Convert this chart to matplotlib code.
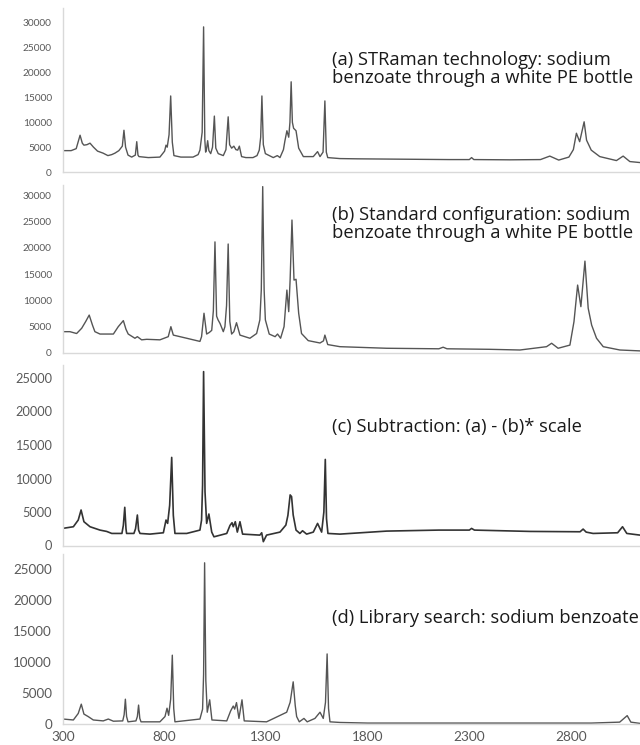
"""Raman spectra of sodium benzoate, four stacked panels."""

import matplotlib
matplotlib.use("Agg")
import matplotlib.pyplot as plt


# (a) STRaman: wavenumber / intensity pairs
a_wn = [300, 340, 365, 384, 395, 403, 418, 433, 450, 470, 497, 521, 540, 556, 575,
        592, 600, 608, 620, 638, 656, 663, 669, 674, 720, 777, 800, 807, 813, 822,
        830, 838, 846, 880, 940, 965, 974, 985, 992, 998, 1002, 1006, 1012, 1018,
        1027, 1036, 1045, 1052, 1064, 1089, 1102, 1113, 1120, 1130, 1141, 1151,
        1160, 1168, 1179, 1200, 1235, 1255, 1266, 1273, 1279, 1286, 1296, 1335,
        1355, 1368, 1385, 1392, 1402, 1411, 1417, 1423, 1429, 1435, 1447, 1460,
        1483, 1532, 1553, 1565, 1580, 1589, 1596, 1603, 1663, 1750, 1900, 2050,
        2200, 2300, 2311, 2322, 2500, 2650, 2696, 2740, 2790, 2812, 2827, 2843,
        2865, 2877, 2900, 2942, 3024, 3057, 3090, 3140]
a_int = [4300, 4300, 4700, 7400, 5800, 5400, 5500, 5800, 5000, 4200, 3800, 3300, 3500,
         3800, 4300, 5200, 8400, 5000, 3400, 3000, 3400, 6100, 3400, 3100, 2900, 3000,
         4200, 5400, 5000, 7500, 15300, 6000, 3300, 3000, 3000, 3500, 4400, 8000,
         29200, 6500, 4000, 4500, 6300, 4300, 3700, 5000, 11250, 4800, 3700, 3300,
         4500, 11100, 5500, 4800, 5200, 4500, 4400, 5200, 3100, 2900, 2900, 3300,
         4400, 7000, 15300, 5500, 3700, 2900, 3300, 2900, 4500, 6200, 8300, 7000,
         10000, 18150, 10000, 8800, 8300, 4800, 3100, 3100, 4100, 3100, 4000, 14300,
         4000, 2900, 2700, 2650, 2600, 2550, 2500, 2500, 2900, 2500, 2450, 2500, 3200,
         2400, 3000, 4500, 7800, 6100, 10100, 6400, 4400, 3100, 2300, 3200, 2100, 1900]

# (b) standard configuration
b_wn = [300, 334, 367, 392, 412, 429, 445, 457, 482, 548, 572, 597, 610, 621, 654,
        666, 687, 712, 777, 818, 831, 843, 909, 974, 982, 994, 1007, 1020, 1032,
        1040, 1048, 1056, 1063, 1073, 1089, 1097, 1105, 1113, 1121, 1130, 1141,
        1154, 1171, 1220, 1253, 1269, 1276, 1283, 1290, 1296, 1315, 1344, 1356,
        1371, 1388, 1402, 1411, 1418, 1427, 1437, 1447, 1460, 1474, 1507, 1565,
        1582, 1589, 1603, 1663, 1893, 2150, 2171, 2190, 2400, 2549, 2680, 2705,
        2737, 2795, 2815, 2833, 2849, 2869, 2885, 2902, 2926, 2959, 3041, 3140]
b_int = [4050, 4050, 3700, 4700, 6000, 7200, 5300, 4050, 3600, 3600, 5000, 6150, 4500,
         3600, 2800, 3100, 2500, 2600, 2500, 3100, 5000, 3400, 2800, 2200, 3100, 7550,
         3600, 3900, 4300, 8000, 21100, 7000, 6300, 5600, 4050, 5000, 9000, 20700,
         6000, 3600, 4050, 5750, 3400, 2800, 3700, 6300, 12000, 31600, 12000, 6300,
         3600, 3100, 3600, 2800, 5000, 11950, 7850, 14000, 25250, 13850, 14000, 7550,
         3700, 2350, 1900, 2300, 3400, 1600, 1200, 900, 800, 1100, 800, 700, 570, 1200,
         1850, 900, 1500, 5950, 12900, 8800, 17450, 8500, 5300, 2800, 1200, 570, 400]

# (c) subtraction (a) - (b)*scale
c_wn = [300, 351, 375, 389, 403, 433, 482, 515, 540, 590, 597, 604, 610, 613, 649,
        657, 666, 672, 679, 728, 794, 807, 815, 825, 835, 843, 851, 909, 974, 982,
        987, 992, 999, 1007, 1018, 1032, 1043, 1056, 1106, 1122, 1132, 1138, 1148,
        1158, 1171, 1184, 1269, 1278, 1286, 1302, 1368, 1397, 1407, 1418, 1425,
        1433, 1447, 1466, 1479, 1499, 1532, 1553, 1573, 1584, 1591, 1597, 1604,
        1663, 1893, 2150, 2300, 2311, 2325, 2600, 2845, 2860, 2875, 2909, 3030,
        3054, 3075, 3140]
c_int = [2560, 2800, 3800, 5300, 3550, 2800, 2300, 2100, 1800, 1800, 3000, 5700, 2500,
         1800, 1800, 2500, 4550, 2300, 1800, 1700, 1900, 3800, 3300, 6000, 13150, 4500,
         1800, 1800, 2300, 3800, 9000, 25950, 8000, 3300, 4700, 2000, 1300, 1400, 1800,
         3000, 3400, 2800, 3550, 2000, 3550, 1700, 1550, 1900, 570, 1550, 2000, 3050,
         4500, 7550, 7300, 4550, 2300, 1800, 2200, 1700, 2000, 3300, 2000, 5000, 12850,
         4000, 1800, 1700, 2150, 2300, 2300, 2550, 2300, 2100, 2050, 2450, 2000, 1800,
         1900, 2800, 1800, 1550]

# (d) library spectrum
d_wn = [300, 351, 375, 390, 403, 424, 449, 498, 523, 548, 594, 601, 607, 613, 620,
        659, 666, 672, 678, 684, 777, 802, 812, 820, 830, 838, 845, 851, 974, 987,
        992, 997, 1003, 1010, 1022, 1033, 1106, 1125, 1138, 1145, 1154, 1166, 1181,
        1192, 1302, 1401, 1418, 1433, 1443, 1450, 1463, 1486, 1502, 1540, 1565,
        1581, 1592, 1600, 1607, 1614, 1663, 1800, 2500, 2900, 3040, 3077, 3095, 3140]
d_int = [800, 650, 1700, 3200, 1600, 1200, 650, 500, 800, 450, 500, 1500, 4000, 1200,
         350, 500, 1200, 3050, 900, 350, 350, 1200, 2550, 1400, 4000, 11100, 2500, 350,
         800, 2400, 8000, 26000, 7000, 1900, 3900, 650, 500, 2100, 2900, 2400, 3450,
         900, 3900, 500, 350, 1900, 3500, 6800, 3000, 1200, 350, 900, 350, 900, 1900,
         900, 3500, 11300, 2500, 350, 250, 150, 150, 150, 300, 1350, 300, 100]

labels = [
    "(a) STRaman technology: sodium\nbenzoate through a white PE bottle",
    "(b) Standard configuration: sodium\nbenzoate through a white PE bottle",
    "(c) Subtraction: (a) - (b)* scale",
    "(d) Library search: sodium benzoate",
]
x_ticks = [300, 800, 1300, 1800, 2300, 2800]

W, H = 640, 745
fig = plt.figure(figsize=(W / 100, H / 100), dpi=100)

# panel boxes in pixels: top, bottom, ymax, last y tick, tick size, line colour, width
panels = [
    (a_wn, a_int, 8.0, 172.0, 33000, 30000, 7.3, "#555555", 1.0),
    (b_wn, b_int, 184.5, 353.0, 32000, 30000, 7.3, "#555555", 1.0),
    (c_wn, c_int, 364.6, 545.5, 27000, 25000, 9.2, "#333333", 1.2),
    (d_wn, d_int, 553.5, 724.0, 27500, 25000, 9.6, "#555555", 1.0),
]
label_y = [69, 224, 427, 618]

left = 63
for i, (wn, inten, top, bot, ymax, ytop, fs, col, lw) in enumerate(panels):
    ax = fig.add_axes([left / W, 1 - bot / H, (W - left) / W, (bot - top) / H])
    ax.plot(wn, inten, color=col, lw=lw)
    ax.set_xlim(300, 3140)
    ax.set_ylim(0, ymax)
    ax.set_yticks(range(0, ytop + 1, 5000))
    ax.set_xticks(x_ticks)
    for s in ["top", "right"]:
        ax.spines[s].set_visible(False)
    for s in ["left", "bottom"]:
        ax.spines[s].set_color("#d9d9d9")
        ax.spines[s].set_linewidth(1.0)
    ax.tick_params(length=0, labelcolor="#595959", pad=8)
    for t in ax.get_yticklabels():
        t.set_fontsize(fs)
        t.set_family("Lato")
    if i < 3:
        ax.set_xticklabels([])
    else:
        for t in ax.get_xticklabels():
            t.set_fontsize(9.8)
            t.set_family("Lato")
        ax.tick_params(axis="x", pad=5)
    fig.text(332 / W, 1 - label_y[i] / H, labels[i], fontsize=13.2,
             family="Open Sans", color="#1a1a1a", va="center", ha="left",
             linespacing=0.93)

fig.savefig("out.png", dpi=100)
